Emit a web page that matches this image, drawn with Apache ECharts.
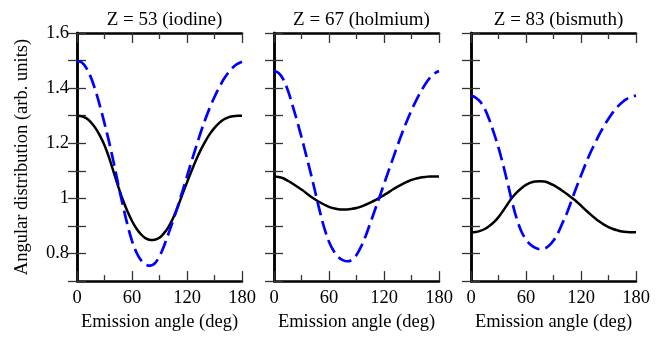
<!DOCTYPE html>
<html>
<head>
<meta charset="utf-8">
<script src="https://cdn.jsdelivr.net/npm/echarts@6/dist/echarts.min.js"></script>
<style>
html,body{margin:0;padding:0;background:#fff;}
#chart{width:670px;height:337px;}
</style>
</head>
<body>
<div id="chart"></div>
<script>
// Emission angle (deg), every 5 degrees
const angles = [0,5,10,15,20,25,30,35,40,45,50,55,60,65,70,75,80,85,90,95,100,105,110,115,120,125,130,135,140,145,150,155,160,165,170,175,180];

const panelTitles = ['Z = 53 (iodine)', 'Z = 67 (holmium)', 'Z = 83 (bismuth)'];
const xTicks = [0, 60, 120, 180];
const yTickLabels = [0.8, 1, 1.2, 1.4, 1.6];

// Solid black curves
const iodineSolid  = [1.300,1.298,1.291,1.277,1.256,1.228,1.193,1.148,1.095,1.043,0.995,0.953,0.918,0.890,0.869,0.855,0.849,0.850,0.857,0.874,0.898,0.930,0.970,1.015,1.058,1.100,1.140,1.176,1.207,1.234,1.256,1.273,1.286,1.294,1.298,1.300,1.300];
const holmiumSolid = [1.079,1.078,1.073,1.064,1.054,1.043,1.032,1.020,1.007,0.996,0.986,0.977,0.969,0.964,0.961,0.960,0.960,0.962,0.965,0.970,0.977,0.985,0.993,1.002,1.012,1.022,1.033,1.043,1.052,1.060,1.067,1.072,1.076,1.078,1.079,1.079,1.079];
const bismuthSolid = [0.877,0.878,0.882,0.889,0.900,0.914,0.932,0.955,0.980,1.003,1.022,1.037,1.049,1.057,1.061,1.062,1.061,1.056,1.048,1.038,1.027,1.015,1.002,0.989,0.974,0.958,0.943,0.929,0.916,0.905,0.896,0.889,0.884,0.880,0.878,0.877,0.877];

// Dashed blue curves
const iodineDashed  = [1.498,1.494,1.474,1.440,1.393,1.336,1.272,1.205,1.130,1.050,0.975,0.905,0.846,0.803,0.775,0.760,0.756,0.765,0.790,0.828,0.874,0.922,0.972,1.025,1.080,1.135,1.188,1.240,1.287,1.330,1.368,1.402,1.432,1.456,1.475,1.488,1.496];
const holmiumDashed = [1.462,1.455,1.433,1.393,1.340,1.283,1.222,1.158,1.092,1.023,0.953,0.891,0.843,0.810,0.788,0.776,0.772,0.777,0.795,0.825,0.864,0.910,0.957,1.004,1.052,1.100,1.147,1.194,1.239,1.281,1.320,1.355,1.386,1.414,1.437,1.453,1.462];
const bismuthDashed = [1.373,1.366,1.351,1.325,1.285,1.237,1.184,1.122,1.055,0.985,0.925,0.880,0.851,0.832,0.821,0.816,0.818,0.828,0.847,0.875,0.912,0.950,0.995,1.040,1.083,1.125,1.164,1.198,1.232,1.262,1.289,1.313,1.333,1.349,1.361,1.369,1.373];

const solids = [iodineSolid, holmiumSolid, bismuthSolid];
const dashes = [iodineDashed, holmiumDashed, bismuthDashed];

const FONT = 'Liberation Serif';
const FS = 18.5;
const gridLefts = [77, 274, 471];
const gridW = 165, gridTop = 33, gridH = 253;

const option = {
  animation: false,
  backgroundColor: '#fff',
  title: [], grid: [], xAxis: [], yAxis: [], series: []
};

const tickStyle = { color: '#333', width: 1.3 };

for (let p = 0; p < 3; p++) {
  option.title.push({
    text: panelTitles[p],
    left: gridLefts[p] + gridW / 2,
    top: 6,
    textAlign: 'center',
    textStyle: { fontFamily: FONT, fontSize: 19, fontWeight: 'normal', color: '#000' }
  });
  option.grid.push({ left: gridLefts[p], top: gridTop, width: gridW, height: gridH });
  const axLine = { show: true, lineStyle: { color: '#000', width: 2.5 } };
  // bottom x
  option.xAxis.push({
    type: 'value', gridIndex: p, min: 0, max: 180, interval: 60, position: 'bottom',
    axisLine: axLine,
    axisTick: { show: true, inside: true, length: 10, lineStyle: tickStyle },
    minorTick: { show: true, splitNumber: 2, length: 6, lineStyle: tickStyle },
    splitLine: { show: false },
    axisLabel: { show: true, margin: 8, fontFamily: FONT, fontSize: FS, color: '#000',
      formatter: v => xTicks.includes(v) ? String(v) : '' },
    name: 'Emission angle (deg)', nameLocation: 'middle', nameGap: 31,
    nameTextStyle: { fontFamily: FONT, fontSize: FS, color: '#000' }
  });
  // top x (mirror)
  option.xAxis.push({
    type: 'value', gridIndex: p, min: 0, max: 180, interval: 60, position: 'top',
    axisLine: axLine,
    axisTick: { show: true, inside: true, length: 10, lineStyle: tickStyle },
    minorTick: { show: true, splitNumber: 2, length: 6, lineStyle: tickStyle },
    splitLine: { show: false }, axisLabel: { show: false }
  });
  // left y
  option.yAxis.push({
    type: 'value', gridIndex: p, min: 0.7, max: 1.6, interval: 0.1, position: 'left',
    axisLine: axLine,
    axisTick: { show: true, inside: true, length: 9, lineStyle: tickStyle },
    splitLine: { show: false },
    axisLabel: { show: p === 0, margin: 8, fontFamily: FONT, fontSize: FS, color: '#000',
      formatter: v => { const k = Math.round(v * 10) / 10; return yTickLabels.some(t => Math.abs(t - k) < 1e-6) ? String(k) : ''; } },
    name: p === 0 ? 'Angular distribution (arb. units)' : '',
    nameLocation: 'middle', nameGap: 45,
    nameTextStyle: { fontFamily: FONT, fontSize: FS, color: '#000' }
  });
  // right y (mirror)
  option.yAxis.push({
    type: 'value', gridIndex: p, min: 0.7, max: 1.6, interval: 0.1, position: 'right',
    axisLine: axLine,
    axisTick: { show: true, inside: true, length: 9, lineStyle: tickStyle },
    splitLine: { show: false }, axisLabel: { show: false }
  });
  option.series.push({
    type: 'line', xAxisIndex: 2 * p, yAxisIndex: 2 * p, smooth: 0.35, symbol: 'none',
    lineStyle: { color: '#000', width: 2.5 },
    data: angles.map((a, i) => [a, solids[p][i]])
  });
  option.series.push({
    type: 'line', xAxisIndex: 2 * p, yAxisIndex: 2 * p, smooth: 0.35, symbol: 'none',
    lineStyle: { color: '#0000ff', width: 2.7, type: [14, 6] },
    data: angles.map((a, i) => [a, dashes[p][i]])
  });
}

const chart = echarts.init(document.getElementById('chart'), null, { renderer: 'canvas' });
chart.setOption(option);
</script>
</body>
</html>
